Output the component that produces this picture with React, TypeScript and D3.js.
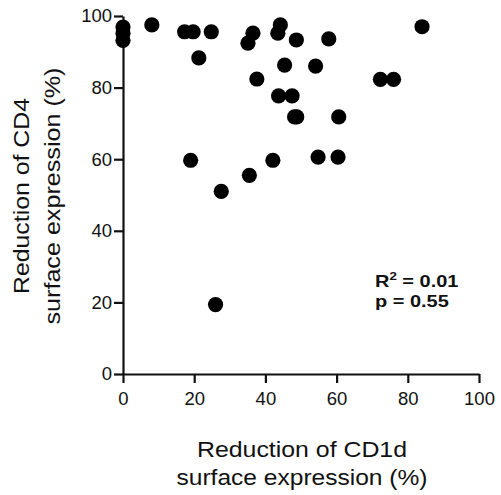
import React, { useEffect, useRef } from 'react';
import * as d3 from 'd3';

// reduction values (%), one entry per sample
const cd1dReduction = [0, 0, 0, 8.1, 17.3, 19.7, 24.8, 21.3, 36.5, 35.1, 44.2, 43.5, 48.7, 57.8, 45.4, 54.1, 37.6, 43.7, 47.5, 48.2, 48.8, 60.6, 84, 72.3, 76, 19, 27.6, 35.5, 42.1, 54.8, 60.4, 26];
const cd4Reduction = [96.9, 95.2, 93.2, 97.5, 95.6, 95.6, 95.6, 88.3, 95.2, 92.4, 97.5, 95.2, 93.3, 93.6, 86.3, 86.0, 82.4, 77.7, 77.7, 71.8, 71.8, 71.8, 97.0, 82.3, 82.3, 59.7, 51.0, 55.5, 59.7, 60.6, 60.6, 19.4];
const xTicks = [0, 20, 40, 60, 80, 100];
const yTicks = [0, 20, 40, 60, 80, 100];
const xTitleLines = ['Reduction of CD1d', 'surface expression (%)'];
const yTitleLines = ['Reduction of CD4', 'surface expression (%)'];
const statsLines = ['R', 'p = 0.55'];

const FONT = "'Liberation Sans', Arial, sans-serif";

export default function App() {
  const svgRef = useRef<SVGSVGElement>(null);

  useEffect(() => {
    const svg = d3.select(svgRef.current);
    svg.selectAll('*').remove();

    const margin = { top: 16, left: 123, right: 22, bottom: 121 };
    const height = 495 - margin.top - margin.bottom;

    const x = d3.scaleLinear().domain([0, 100]).range([0, 356]);
    const y = d3.scaleLinear().domain([0, 100]).range([height, 0]);

    const g = svg.append('g').attr('transform', `translate(${margin.left},${margin.top})`);

    const xAxis = g.append('g')
      .attr('transform', `translate(0,${height})`)
      .call(d3.axisBottom(x).tickValues(xTicks).tickSize(9).tickSizeOuter(0).tickPadding(9));
    const yAxis = g.append('g')
      .call(d3.axisLeft(y).tickValues(yTicks).tickSize(9).tickSizeOuter(0).tickPadding(2));

    [xAxis, yAxis].forEach(a => {
      a.select('.domain').attr('stroke', '#111').attr('stroke-width', 2.2);
      a.selectAll('.tick line').attr('stroke', '#111').attr('stroke-width', 2.2);
      a.selectAll('.tick text')
        .attr('fill', '#111')
        .style('font-family', FONT)
        .style('font-size', '18.5px');
    });

    // points
    g.selectAll('.dot')
      .data(cd1dReduction)
      .enter()
      .append('circle')
      .attr('class', 'dot')
      .attr('cx', d => x(d))
      .attr('cy', (d, i) => y(cd4Reduction[i]))
      .attr('r', 7.6)
      .attr('fill', '#000');

    // stats, text in the original is a bit wide so stretch it
    const stats = svg.append('g').attr('transform', 'translate(375,287) scale(1.21,1)')
      .style('font-family', FONT)
      .style('font-weight', 'bold')
      .style('font-size', '16.5px')
      .attr('fill', '#111');
    const r2 = stats.append('text').attr('x', 0).attr('y', 0);
    r2.append('tspan').text(statsLines[0]);
    r2.append('tspan').attr('dy', -7).style('font-size', '11px').text('2');
    r2.append('tspan').attr('dy', 7).text(' = 0.01');
    stats.append('text').attr('x', 0).attr('y', 20).text(statsLines[1]);

    // axis titles
    const titleStyle = (t) => t
      .attr('text-anchor', 'middle')
      .attr('lengthAdjust', 'spacingAndGlyphs')
      .style('font-family', FONT)
      .style('font-size', '21.5px')
      .attr('fill', '#111');

    const xLens = [210, 251];
    xTitleLines.forEach((line, i) => {
      svg.append('text')
        .call(titleStyle)
        .attr('x', 302)
        .attr('y', 457 + i * 28)
        .attr('textLength', xLens[i])
        .text(line);
    });

    const yLens = [196, 257];
    const yCenters = [29, 60];
    yTitleLines.forEach((line, i) => {
      svg.append('text')
        .call(titleStyle)
        .attr('transform', 'translate(0,196) rotate(-90)')
        .attr('x', 0)
        .attr('y', yCenters[i])
        .attr('textLength', yLens[i])
        .text(line);
    });
  }, []);

  return (
    <svg
      ref={svgRef}
      width={501}
      height={495}
      style={{ position: 'absolute', left: 0, top: 0, background: '#fff' }}
    />
  );
}
